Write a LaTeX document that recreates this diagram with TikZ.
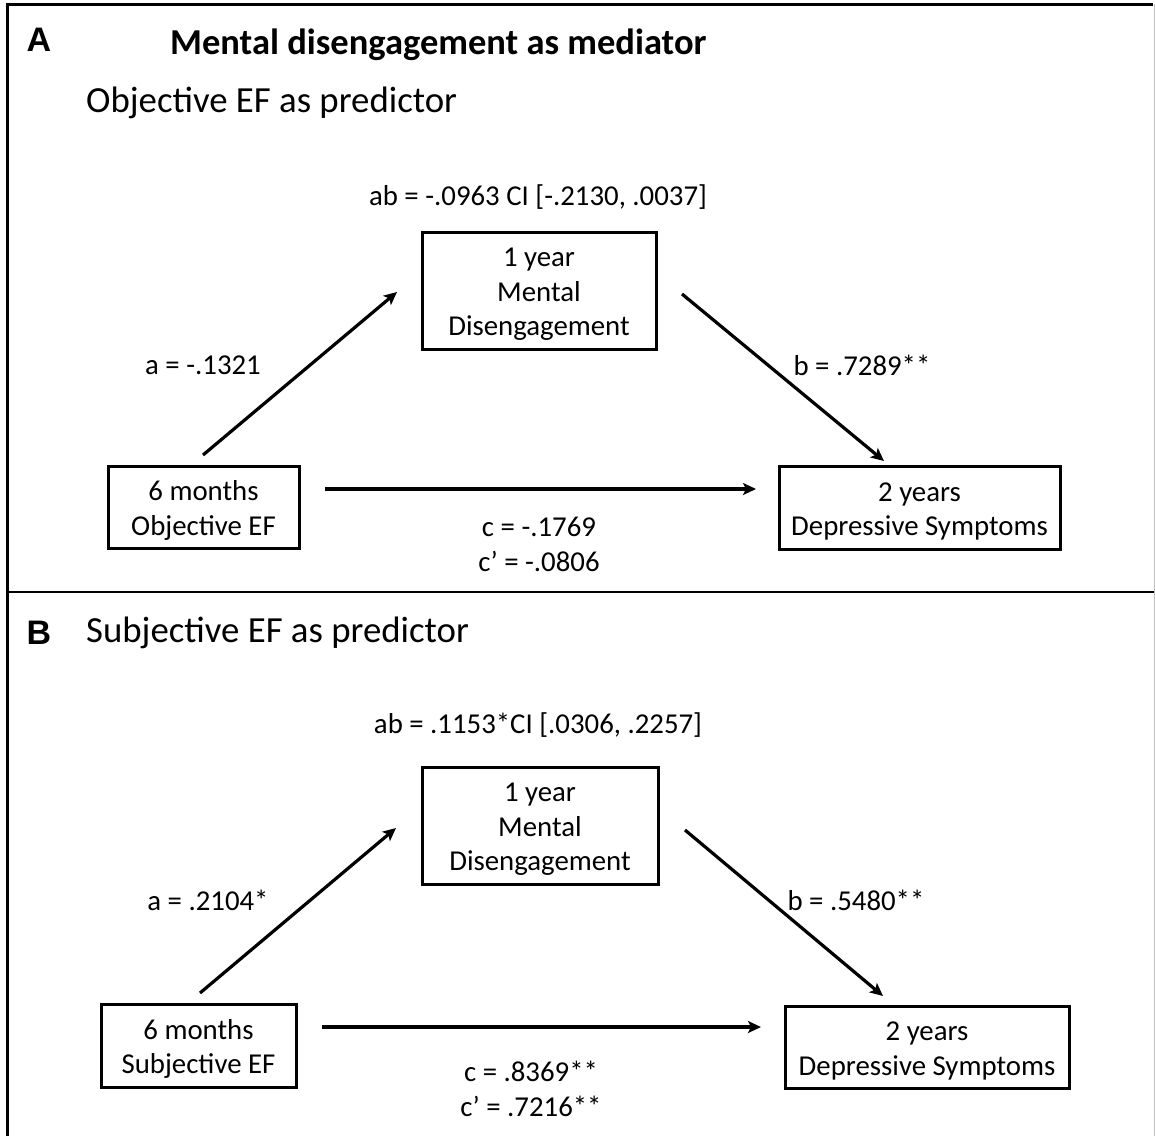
\documentclass[tikz,border=0pt]{standalone}
\usepackage{fontspec}
\setmainfont{Carlito}
\newfontfamily\labfont{Liberation Sans}
\usetikzlibrary{arrows.meta}
\newcommand{\boxtext}[1]{\raisebox{-4pt}[\height][\depth]{\setlength{\tabcolsep}{0pt}\begin{tabular}{c}#1\end{tabular}}}
\begin{document}
\begin{tikzpicture}[x=1pt,y=-1pt,
  box/.style={draw,line width=3pt,align=center,inner sep=0pt,
    font=\fontsize{28.8}{34.5}\selectfont},
  lbl/.style={align=center,inner sep=0pt,font=\fontsize{28.8}{35}\selectfont},
  conn/.style={line width=3.2pt,-{Stealth[length=13pt,width=12pt,inset=3pt]}},
  panel/.style={inner sep=0pt},
  heading/.style={font=\fontsize{36.8}{42}\selectfont,inner sep=0pt,anchor=west}]
\useasboundingbox (0,0) rectangle (1155,1136);
% frame
\draw[line width=3pt] (7.5,1136) -- (7.5,4.5) -- (1153,4.5);
\draw[line width=1pt,black!25] (1154,4) -- (1154,1136);
\draw[line width=2.6pt] (7.5,592) -- (1154,592);

% ---------- Panel A ----------
\node[panel] (pA) at (39,40) {\fontsize{34}{38}\selectfont\labfont\bfseries A};
\node[font=\bfseries\fontsize{36.5}{42}\selectfont,inner sep=0pt,anchor=west] (tA) at (170,45) {Mental disengagement as mediator};
\node[heading] (hA) at (86,103) {Objective EF as predictor};
\node[lbl] (abA) at (538,197) {ab = -.0963 CI [-.2130, .0037]};

\node[box,minimum width=234pt,minimum height=117pt] (mA) at (539,290.5) {\boxtext{1 year\\Mental\\Disengagement}};
\node[box,minimum width=191pt,minimum height=82pt] (xA) at (203.5,507) {\boxtext{6 months\\Objective EF}};
\node[box,minimum width=281pt,minimum height=83pt] (yA) at (919.5,507.5) {\boxtext{2 years\\Depressive Symptoms}};

\node[lbl] (aA) at (203,365) {a = -.1321};
\node[lbl] (bA) at (862,365) {b = .7289**};
\node[lbl] (cA) at (539,544) {c = -.1769\\c’ = -.0806};

\coordinate (aAs) at (203,455);
\coordinate (aAe) at (397,292);
\coordinate (bAs) at (682,294);
\coordinate (bAe) at (884,461);
\coordinate (cAs) at (325,489);
\coordinate (cAe) at (756,489);
\draw[conn] (aAs) -- (aAe);
\draw[conn] (bAs) -- (bAe);
\draw[conn] (cAs) -- (cAe);

% ---------- Panel B ----------
\node[panel] (pB) at (39,633) {\fontsize{34}{38}\selectfont\labfont\bfseries B};
\node[heading] (hB) at (86,633) {Subjective EF as predictor};
\node[lbl] (abB) at (538,725) {ab = .1153*CI [.0306, .2257]};

\node[box,minimum width=236pt,minimum height=117pt] (mB) at (540,825.5) {\boxtext{1 year\\Mental\\Disengagement}};
\node[box,minimum width=195pt,minimum height=83pt] (xB) at (198.5,1045.5) {\boxtext{6 months\\Subjective EF}};
\node[box,minimum width=284pt,minimum height=82pt] (yB) at (927,1047) {\boxtext{2 years\\Depressive Symptoms}};

\node[lbl] (aB) at (208,900) {a = .2104*};
\node[lbl] (bB) at (856,900) {b = .5480**};
\node[lbl] (cB) at (531,1089) {c = .8369**\\c’ = .7216**};

\coordinate (aBs) at (200,993);
\coordinate (aBe) at (396,828);
\coordinate (bBs) at (685,830);
\coordinate (bBe) at (883,996);
\coordinate (cBs) at (322,1027);
\coordinate (cBe) at (761,1027);
\draw[conn] (aBs) -- (aBe);
\draw[conn] (bBs) -- (bBe);
\draw[conn] (cBs) -- (cBe);
\end{tikzpicture}
\end{document}
